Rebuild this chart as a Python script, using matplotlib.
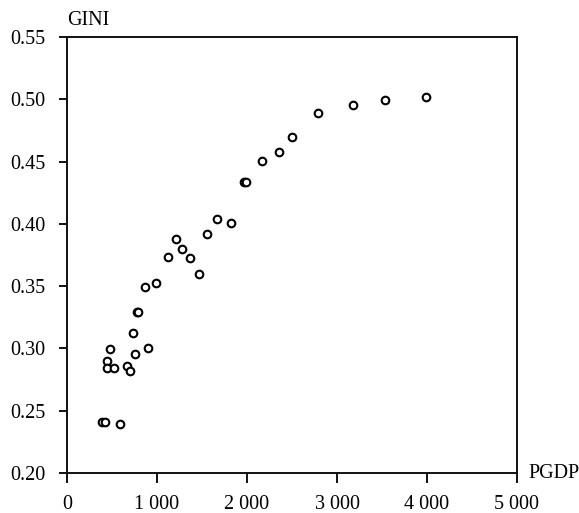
import matplotlib
matplotlib.use("Agg")
import matplotlib.pyplot as plt

# PGDP vs GINI
pgdp = [392, 422, 592, 444, 444, 519, 481, 663, 703, 759, 737, 903,
        775, 787, 867, 992, 1119, 1211, 1281, 1370, 1463, 1552, 1663,
        1826, 1970, 1985, 2170, 2356, 2500, 2789, 3174, 3537, 3993]
gini = [0.2406, 0.2406, 0.2395, 0.2897, 0.2844, 0.2844, 0.2996, 0.2860,
        0.2817, 0.2959, 0.3124, 0.3004, 0.3290, 0.3290, 0.3496, 0.3522,
        0.3736, 0.3877, 0.3795, 0.3725, 0.3597, 0.3915, 0.4043, 0.4006,
        0.4335, 0.4335, 0.4508, 0.4580, 0.4695, 0.4887, 0.4951, 0.4994,
        0.5015]

xticks = [0, 1000, 2000, 3000, 4000, 5000]
xticklabels = ["0", "1 000", "2 000", "3 000", "4 000", "5 000"]
yticks = [0.20, 0.25, 0.30, 0.35, 0.40, 0.45, 0.50, 0.55]

plt.rcParams['font.family'] = ['Liberation Serif', 'DejaVu Serif']

fig = plt.figure(figsize=(5.79, 5.13), dpi=100)
ax = fig.add_axes([67/579, 40/513, 450/579, 436/513])

ax.scatter(pgdp, gini, s=30, facecolors='white', edgecolors='black',
           linewidths=1.5, zorder=3)

ax.set_xlim(0, 5000)
ax.set_ylim(0.20, 0.55)
ax.set_xticks(xticks)
ax.set_xticklabels(xticklabels)
ax.set_yticks(yticks)
ax.set_yticklabels([f"{v:.2f}" for v in yticks])

for s in ax.spines.values():
    s.set_linewidth(1.4)
    s.set_color('#111111')
ax.tick_params(axis='both', direction='out', width=1.4, color='#111111',
               labelsize=14.5)
ax.tick_params(axis='x', length=7, pad=8.5)
ax.tick_params(axis='y', length=6, pad=9.5)

ax.text(0.0, 1.037, "GINI", transform=ax.transAxes, fontsize=14.5,
        ha='left', va='center')
ax.text(1.025, 0.0, "PGDP", transform=ax.transAxes, fontsize=14.5,
        ha='left', va='center')

fig.savefig("out.png", dpi=100)
